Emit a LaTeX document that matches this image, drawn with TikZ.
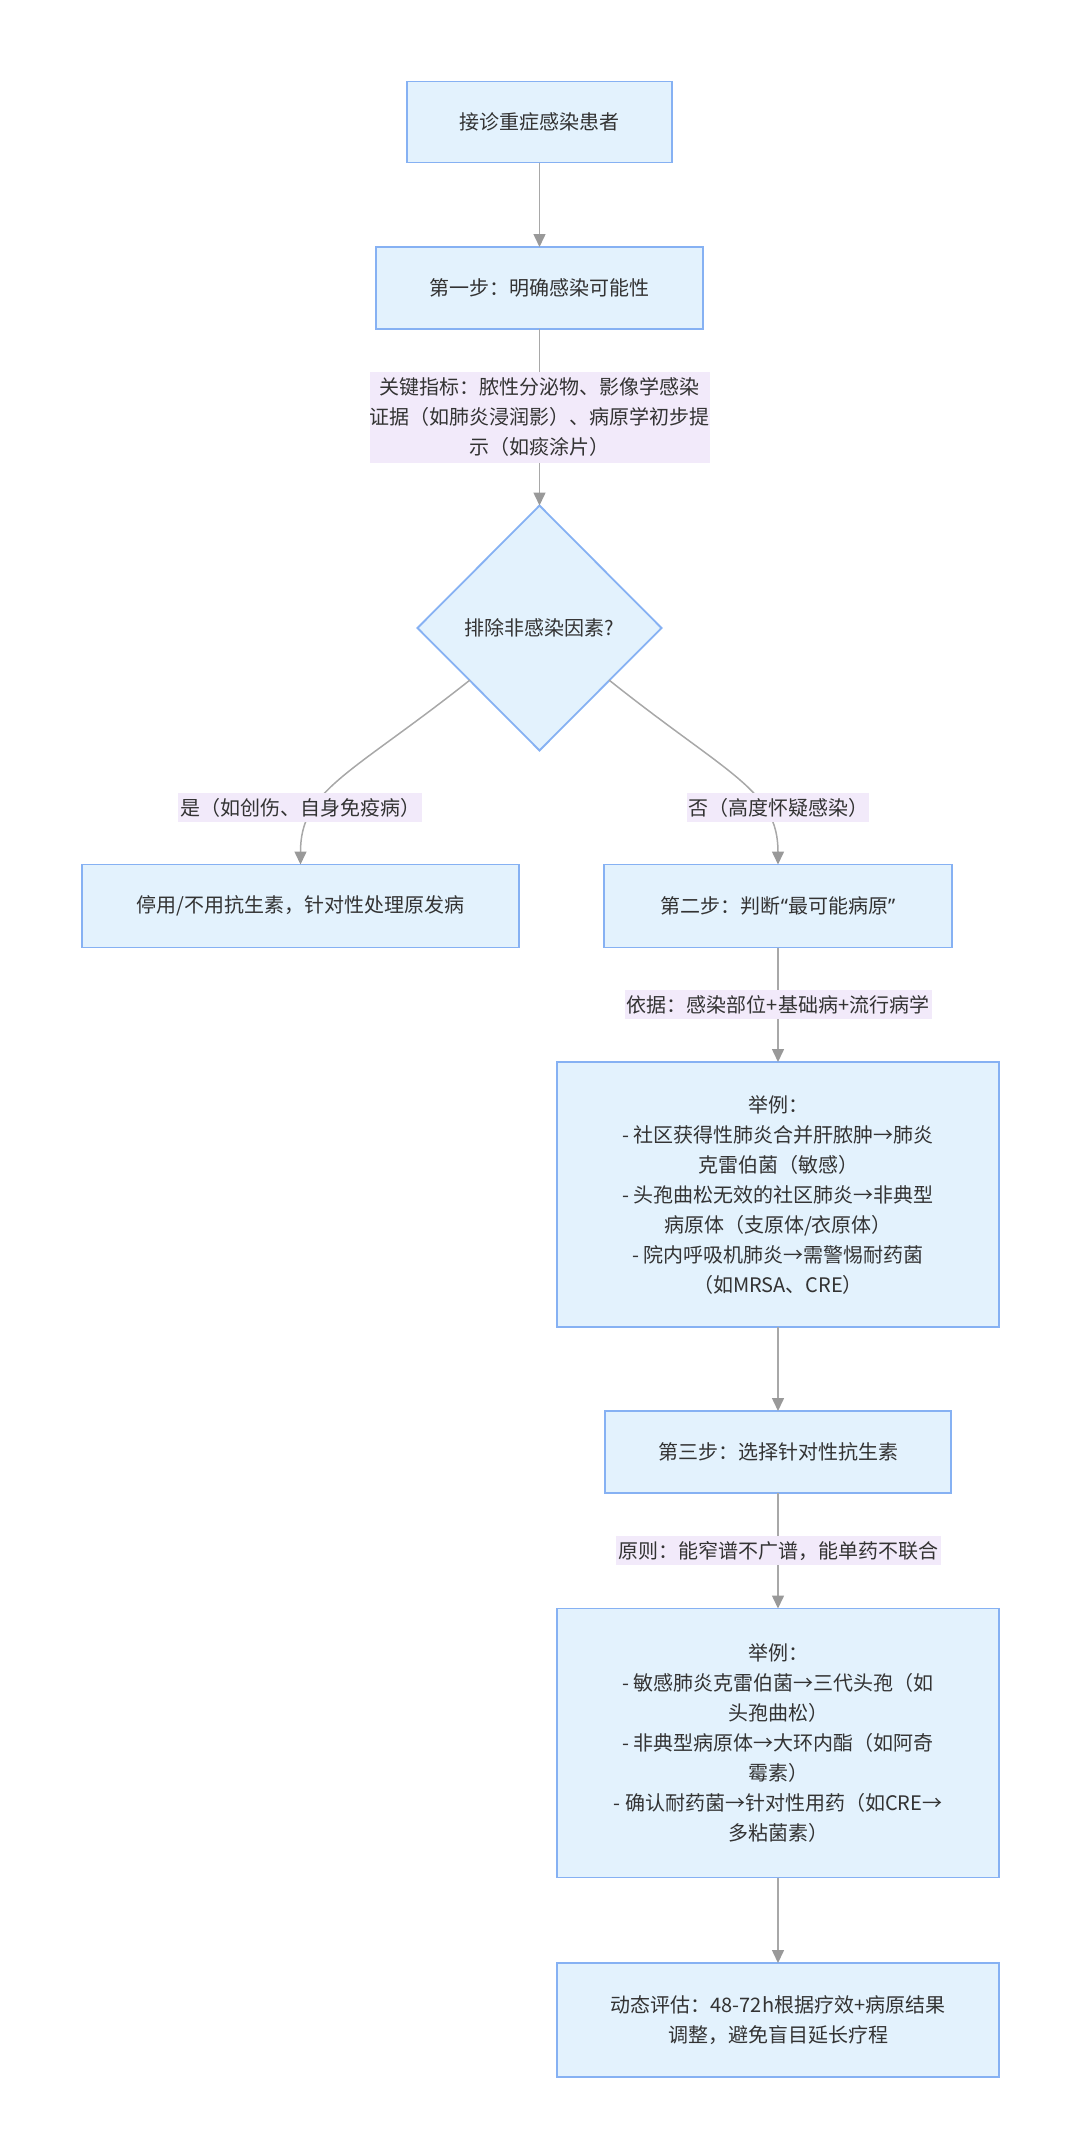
\documentclass[tikz,border=0pt]{standalone}
\usepackage{fontspec}
\setmainfont{Noto Sans CJK SC}
\newfontfamily\qfont{Noto Sans}
\usetikzlibrary{arrows.meta,shapes.geometric}
\definecolor{boxfill}{HTML}{E3F2FD}
\definecolor{boxline}{HTML}{86B1F3}
\definecolor{lblfill}{HTML}{F2EAFA}
\definecolor{edgecol}{HTML}{A8A8A8}
\definecolor{tipcol}{HTML}{999999}
\definecolor{txt}{HTML}{333333}
\begin{document}
\begin{tikzpicture}[x=1pt,y=-1pt,
  every node/.style={outer sep=0pt, text=txt, font=\fontsize{20pt}{30pt}\selectfont},
  box/.style={draw=boxline, fill=boxfill, line width=1.8pt, inner sep=0pt, align=center},
  dec/.style={diamond, draw=boxline, fill=boxfill, line width=1.8pt, inner sep=0pt, aspect=1, minimum width=244pt, minimum height=245pt},
  lbl/.style={fill=lblfill, inner sep=0pt, align=center, minimum height=29pt},
  edge/.style={draw=edgecol, line width=1.5pt, -{Triangle[length=13pt,width=12pt,color=tipcol]}}]
\useasboundingbox (0,0) rectangle (1080,2152);

\node[box, minimum width=265pt, minimum height=81pt] (b1) at (539.5,122) {接诊重症感染患者};
\node[box, minimum width=327pt, minimum height=82pt] (b2) at (539.5,288) {第一步：明确感染可能性};
\node[dec] (d) at (539.5,628) {排除非感染因素?};
\node[box, minimum width=437pt, minimum height=83pt] (b3) at (300.5,906) {停用/不用抗生素，针对性处理原发病};
\node[box, minimum width=348pt, minimum height=83pt] (b4) at (778,906) {第二步：判断{\qfont“}最可能病原{\qfont”}};
\node[box, minimum width=442pt, minimum height=265pt] (b5) at (778,1194.5) {举例：\\- 社区获得性肺炎合并肝脓肿→肺炎\\克雷伯菌（敏感）\\- 头孢曲松无效的社区肺炎→非典型\\病原体（支原体/衣原体）\\- 院内呼吸机肺炎→需警惕耐药菌\\（如MRSA、CRE）};
\node[box, minimum width=346pt, minimum height=82pt] (b6) at (778,1452) {第三步：选择针对性抗生素};
\node[box, minimum width=442pt, minimum height=269pt] (b7) at (778,1743) {举例：\\- 敏感肺炎克雷伯菌→三代头孢（如\\头孢曲松）\\- 非典型病原体→大环内酯（如阿奇\\霉素）\\- 确认耐药菌→针对性用药（如CRE→\\多粘菌素）};
\node[box, minimum width=442pt, minimum height=114pt] (b8) at (778,2020) {动态评估：48-72h根据疗效+病原结果\\调整，避免盲目延长疗程};

\coordinate (dL) at (470,680);
\coordinate (dR) at (609,680);

\draw[edge] (b1) -- (b2);
\draw[edge] (b2) -- node[lbl, minimum width=338pt, minimum height=91pt] (l1) {关键指标：脓性分泌物、影像学感染\\证据（如肺炎浸润影）、病原学初步提\\示（如痰涂片）} (d);
\draw[edge] (dL) .. controls (350,775) and (300.5,790) .. (b3.north);
\node[lbl, minimum width=244pt] (ly) at (300,807.5) {是（如创伤、自身免疫病）};
\draw[edge] (dR) .. controls (728,775) and (778,790) .. (b4.north);
\node[lbl, minimum width=182pt] (ln) at (778,807.5) {否（高度怀疑感染）};
\draw[edge] (b4) -- node[lbl, minimum width=307pt] (l2) {依据：感染部位+基础病+流行病学} (b5);
\draw[edge] (b5) -- (b6);
\draw[edge] (b6) -- node[lbl, minimum width=325pt] (l3) {原则：能窄谱不广谱，能单药不联合} (b7);
\draw[edge] (b7) -- (b8);
\end{tikzpicture}
\end{document}
